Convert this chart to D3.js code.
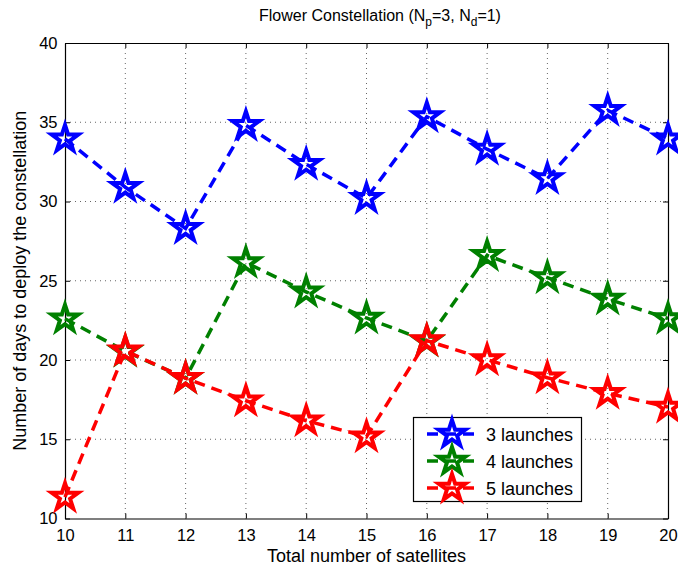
<!DOCTYPE html>
<html><head><meta charset="utf-8">
<script src="https://cdn.jsdelivr.net/npm/d3@7"></script>
<style>
html,body{margin:0;padding:0;background:#fff;}
svg text{font-family:"Liberation Sans",Arial,Helvetica,sans-serif;fill:#000;}
</style></head>
<body>
<svg id="chart" width="678" height="568"></svg>
<script>
const satellites = [10, 11, 12, 13, 14, 15, 16, 17, 18, 19, 20];
const launches3 = [33.95, 30.9, 28.3, 34.8, 32.35, 30.2, 35.35, 33.3, 31.45, 35.75, 33.95];
const launches4 = [22.6, 20.55, 18.85, 26.15, 24.3, 22.65, 21.2, 26.6, 25.2, 23.85, 22.62];
const launches5 = [11.35, 20.58, 18.85, 17.43, 16.17, 15.16, 21.22, 20.02, 18.88, 17.9, 17.03];
const seriesNames = ["3 launches", "4 launches", "5 launches"];
const seriesColors = ["#0000ff", "#008000", "#ff0000"];
const xTicks = [10, 11, 12, 13, 14, 15, 16, 17, 18, 19, 20];
const yTicks = [10, 15, 20, 25, 30, 35, 40];

const svg = d3.select("#chart");
const L = 65, R = 668, T = 43, B = 518.5;
const x = d3.scaleLinear().domain([10, 20]).range([L, R]);
const y = d3.scaleLinear().domain([10, 40]).range([B, T]);

// grid
const grid = svg.append("g");
xTicks.forEach(t => {
  if (t === 10 || t === 20) return;
  grid.append("line").attr("x1", x(t)).attr("x2", x(t)).attr("y1", T).attr("y2", B)
    .attr("stroke", "#000").attr("stroke-width", 1).attr("stroke-dasharray", "1,4").attr("opacity", 0.6);
});
yTicks.forEach(t => {
  if (t === 10 || t === 40) return;
  grid.append("line").attr("x1", L).attr("x2", R).attr("y1", y(t)).attr("y2", y(t))
    .attr("stroke", "#000").attr("stroke-width", 1).attr("stroke-dasharray", "1,4").attr("opacity", 0.6);
});

// axes
const xAxis = d3.axisBottom(x).tickValues(xTicks).tickSizeInner(-5).tickSizeOuter(0).tickPadding(11).tickFormat(d3.format("d"));
const yAxis = d3.axisLeft(y).tickValues(yTicks).tickSizeInner(-5).tickSizeOuter(0).tickPadding(7.5).tickFormat(d3.format("d"));
const gx = svg.append("g").attr("transform", `translate(0,${B})`).call(xAxis);
const gy = svg.append("g").attr("transform", `translate(${L},0)`).call(yAxis);
const gxTop = svg.append("g").attr("transform", `translate(0,${T})`).call(d3.axisTop(x).tickValues(xTicks).tickSizeInner(-5).tickSizeOuter(0).tickFormat(""));
const gyR = svg.append("g").attr("transform", `translate(${R},0)`).call(d3.axisRight(y).tickValues(yTicks).tickSizeInner(-5).tickSizeOuter(0).tickFormat(""));
[gx, gy, gxTop, gyR].forEach(g => {
  g.select(".domain").attr("stroke", "#000").attr("stroke-width", 1.2);
  g.selectAll(".tick line").attr("stroke", "#000");
  g.selectAll("text").style("font-size", "16.5px").attr("fill", "#000");
});

// star path
function starPath(r) {
  const ri = r * 0.382;
  const pts = [];
  for (let i = 0; i < 10; i++) {
    const rr = i % 2 === 0 ? r : ri;
    const a = -Math.PI / 2 + i * Math.PI / 5;
    pts.push([rr * Math.cos(a), rr * Math.sin(a)]);
  }
  return "M" + pts.map(p => p[0].toFixed(2) + "," + p[1].toFixed(2)).join("L") + "Z";
}
const star = starPath(14);

const allSeries = [launches3, launches4, launches5];
const line = d3.line().x((d, i) => x(satellites[i])).y(d => y(d));
allSeries.forEach((vals, k) => {
  const g = svg.append("g");
  g.append("path").datum(vals).attr("d", line).attr("fill", "none")
    .attr("stroke", seriesColors[k]).attr("stroke-width", 3.5).attr("stroke-dasharray", "11,7");
  g.selectAll("path.star").data(vals).enter().append("path").attr("class", "star")
    .attr("d", star).attr("transform", (d, i) => `translate(${x(satellites[i])},${y(d)})`)
    .attr("fill", "none").attr("stroke", seriesColors[k]).attr("stroke-width", 4).attr("stroke-linejoin", "miter");
});

// title
const title = svg.append("text").attr("x", 380).attr("y", 21).attr("text-anchor", "middle").style("font-size", "16px");
title.append("tspan").text("Flower Constellation (N");
title.append("tspan").attr("dy", 5).style("font-size", "12px").text("p");
title.append("tspan").attr("dy", -5).text("=3, N");
title.append("tspan").attr("dy", 5).style("font-size", "12px").text("d");
title.append("tspan").attr("dy", -5).text("=1)");

// axis labels
svg.append("text").attr("x", x(15)).attr("y", 562).attr("text-anchor", "middle").style("font-size", "18px").text("Total number of satellites");
svg.append("text").attr("transform", `translate(26,${(T + B) / 2}) rotate(-90)`).attr("text-anchor", "middle").style("font-size", "18px").text("Number of days to deploy the constellation");

// legend
const lg = svg.append("g");
lg.append("rect").attr("x", 413.5).attr("y", 417.5).attr("width", 168).attr("height", 84).attr("fill", "#fff").attr("stroke", "#000").attr("stroke-width", 1.2);
seriesNames.forEach((n, k) => {
  const cy = 434 + k * 27;
  lg.append("line").attr("x1", 425).attr("x2", 480).attr("y1", cy).attr("y2", cy)
    .attr("stroke", seriesColors[k]).attr("stroke-width", 3.5).attr("stroke-dasharray", "11,7").attr("stroke-dashoffset", -2);
  lg.append("path").attr("d", star).attr("transform", `translate(452,${cy})`).attr("fill", "none")
    .attr("stroke", seriesColors[k]).attr("stroke-width", 4);
  lg.append("text").attr("x", 486).attr("y", cy + 6.5).style("font-size", "18px").text(n);
});
</script>
</body></html>
